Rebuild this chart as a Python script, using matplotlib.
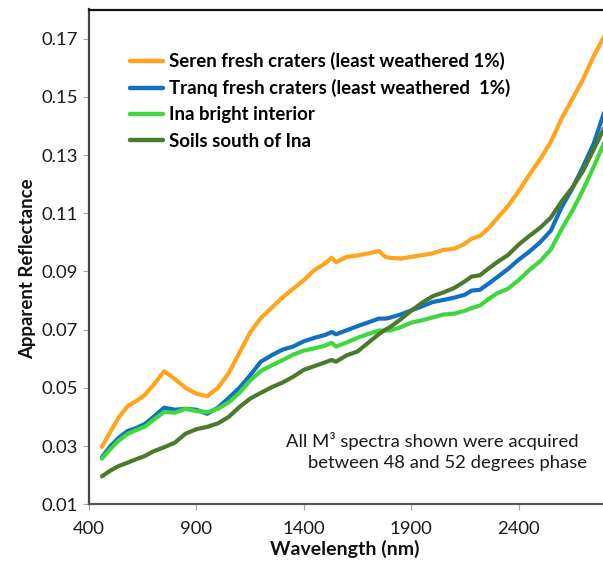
import matplotlib
matplotlib.use("Agg")
import matplotlib.pyplot as plt
import numpy as np

# Valores
wavelength = [460, 500, 540, 580, 620, 660, 700, 750, 800, 850, 900, 950,
              1000, 1050, 1100, 1150, 1200, 1250, 1300, 1350, 1400, 1450,
              1500, 1530, 1550, 1600, 1650, 1700, 1750, 1780, 1800, 1850,
              1900, 1950, 2000, 2050, 2100, 2150, 2180, 2220, 2260, 2300,
              2350, 2400, 2450, 2500, 2550, 2600, 2650, 2700, 2750, 2800]

seren = [0.0297, 0.0350, 0.0400, 0.0437, 0.0455, 0.0476, 0.0510, 0.0557,
         0.0530, 0.0500, 0.0480, 0.0471, 0.0500, 0.0550, 0.0620, 0.0690,
         0.0740, 0.0775, 0.0810, 0.0840, 0.0870, 0.0905, 0.0928, 0.0947,
         0.0932, 0.0950, 0.0955, 0.0962, 0.0970, 0.0950, 0.0947, 0.0944,
         0.0950, 0.0956, 0.0962, 0.0974, 0.0978, 0.0995, 0.1012, 0.1022,
         0.1048, 0.1082, 0.1124, 0.1175, 0.1232, 0.1285, 0.1345, 0.1425,
         0.1492, 0.1560, 0.1640, 0.1710]

tranq = [0.0262, 0.0300, 0.0330, 0.0352, 0.0362, 0.0376, 0.0400, 0.0432,
         0.0425, 0.0428, 0.0425, 0.0411, 0.0432, 0.0465, 0.0500, 0.0543,
         0.0590, 0.0612, 0.0631, 0.0642, 0.0660, 0.0672, 0.0682, 0.0692,
         0.0684, 0.0698, 0.0712, 0.0725, 0.0738, 0.0738, 0.0741, 0.0752,
         0.0766, 0.0780, 0.0795, 0.0802, 0.0810, 0.0820, 0.0834, 0.0837,
         0.0858, 0.0880, 0.0908, 0.0940, 0.0968, 0.1000, 0.1040, 0.1120,
         0.1185, 0.1260, 0.1340, 0.1450]

ina = [0.0257, 0.0290, 0.0320, 0.0342, 0.0355, 0.0367, 0.0390, 0.0417,
       0.0415, 0.0428, 0.0420, 0.0417, 0.0428, 0.0450, 0.0483, 0.0525,
       0.0558, 0.0577, 0.0595, 0.0614, 0.0628, 0.0636, 0.0645, 0.0655,
       0.0642, 0.0656, 0.0672, 0.0685, 0.0697, 0.0697, 0.0697, 0.0708,
       0.0724, 0.0732, 0.0742, 0.0752, 0.0755, 0.0765, 0.0774, 0.0783,
       0.0805, 0.0825, 0.0840, 0.0870, 0.0905, 0.0935, 0.0975, 0.1045,
       0.1108, 0.1180, 0.1260, 0.1345]

soils = [0.0196, 0.0216, 0.0232, 0.0243, 0.0255, 0.0266, 0.0282, 0.0296,
         0.0312, 0.0343, 0.0358, 0.0366, 0.0378, 0.0400, 0.0434, 0.0463,
         0.0483, 0.0502, 0.0518, 0.0538, 0.0562, 0.0575, 0.0588, 0.0596,
         0.0590, 0.0612, 0.0625, 0.0655, 0.0685, 0.0700, 0.0708, 0.0735,
         0.0765, 0.0792, 0.0815, 0.0828, 0.0843, 0.0866, 0.0882, 0.0887,
         0.0910, 0.0932, 0.0956, 0.0992, 0.1022, 0.1050, 0.1085, 0.1140,
         0.1188, 0.1245, 0.1320, 0.1395]

series_labels = ["Seren fresh craters (least weathered 1%)",
                 "Tranq fresh craters (least weathered  1%)",
                 "Ina bright interior",
                 "Soils south of Ina"]
series_colors = ["#FFA41C", "#1170C4", "#3ED83E", "#4B7A2D"]

x_ticks = [400, 900, 1400, 1900, 2400]
y_ticks = [0.01, 0.03, 0.05, 0.07, 0.09, 0.11, 0.13, 0.15, 0.17]

plt.rcParams["font.family"] = ["Lato", "DejaVu Sans"]

fig = plt.figure(figsize=(6.03, 5.62), dpi=100)
ax = fig.add_axes([89 / 603, (562 - 504.3) / 562, 514 / 603, 494.8 / 562])

for vals, lab, col in zip([seren, tranq, ina, soils], series_labels, series_colors):
    ax.plot(wavelength, vals, color=col, linewidth=3.0, label=lab,
            solid_capstyle="round", solid_joinstyle="round")

ax.set_xlim(400, 2793)
ax.set_ylim(0.01, 0.18)
ax.set_xticks(x_ticks)
ax.set_yticks(y_ticks)
ax.set_yticklabels([f"{v:.2f}" for v in y_ticks])
ax.tick_params(axis="both", direction="out", length=4, width=0.8,
               color="#A6A6A6", labelsize=13.3, labelcolor="#1A1A1A")
ax.tick_params(axis="x", pad=8)
ax.tick_params(axis="y", pad=4)

ax.spines["right"].set_visible(False)
ax.spines["top"].set_color("#111111")
ax.spines["top"].set_linewidth(1.6)
ax.spines["left"].set_color("#444444")
ax.spines["left"].set_linewidth(1.6)
ax.spines["bottom"].set_color("#555555")
ax.spines["bottom"].set_linewidth(1.6)

ax.set_xlabel("Wavelength (nm)", fontsize=14, fontweight="bold", color="#111111")
ax.set_ylabel("Apparent Reflectance", fontsize=13.4, fontweight="bold", color="#111111")
ax.xaxis.set_label_coords(0.498, -0.072)
ax.yaxis.set_label_coords(-0.102, 0.476)

leg = ax.legend(loc="upper left", bbox_to_anchor=(0.080, 0.914), frameon=False,
                prop={"weight": "bold", "size": 13.4}, handlelength=1.75,
                handletextpad=0.35, labelspacing=0.49, borderaxespad=0,
                borderpad=0)
for line in leg.get_lines():
    line.set_linewidth(3.2)

ax.text(0.952, 0.128, "All M\u00b3 spectra shown were acquired", transform=ax.transAxes,
        ha="right", va="center", fontsize=13.3, color="#1A1A1A")
ax.text(0.968, 0.083, "between 48 and 52 degrees phase", transform=ax.transAxes,
        ha="right", va="center", fontsize=13.3, color="#1A1A1A")

fig.savefig("out.png", dpi=100)
